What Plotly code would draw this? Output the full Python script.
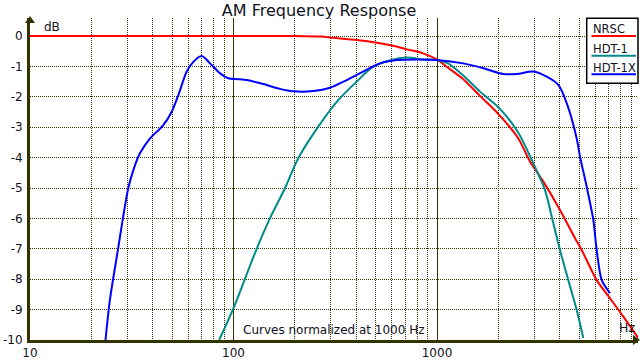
import plotly.graph_objects as go

# ---------------- data ----------------
nrsc_f = [10, 100, 200, 272, 298, 404, 507, 608, 712, 853, 1000, 1116, 1346, 1627,
          2000, 2509, 2864, 3330, 4022, 4766, 5140, 6092, 7083, 8232, 9754]
nrsc_db = [0, 0, 0, -0.02, -0.05, -0.13, -0.22, -0.32, -0.44, -0.57, -0.77, -1.01, -1.42,
           -1.97, -2.56, -3.37, -4.13, -4.79, -5.72, -6.65, -7.04, -8.03, -8.63, -9.23, -9.94]

hdt1_f = [85, 100, 130, 151, 179, 208, 261, 327, 403, 486, 610, 710, 857, 1000, 1133,
          1346, 1627, 2000, 2509, 2974, 3394, 3661, 4022, 4418, 4859, 5236]
hdt1_db = [-10, -8.95, -7.0, -6.0, -5.01, -4.02, -2.98, -2.11, -1.50, -1.01, -0.77, -0.71,
           -0.77, -0.79, -0.90, -1.30, -1.83, -2.34, -3.18, -4.19, -5.07, -5.94, -7.04,
           -8.03, -9.01, -9.93]

hdt1x_f = [23.5, 24.7, 27.2, 28.7, 30.4, 32.2, 34.7, 38.9, 45.2, 49.7, 53.6, 58.9, 63.5,
           69.8, 76.7, 85.9, 94.3, 105.6, 116, 140, 169, 197, 247, 298, 360, 434, 525,
           634, 795, 1000, 1346, 1689, 2118, 2464, 2974, 3460, 3947, 4339, 4859, 5044,
           5440, 5863, 6092, 6448, 7083]
hdt1x_db = [-10, -8.68, -6.93, -5.94, -5.01, -4.41, -3.86, -3.37, -2.93, -2.49, -1.94,
            -1.17, -0.85, -0.66, -0.90, -1.23, -1.39, -1.42, -1.45, -1.58, -1.74, -1.82,
            -1.81, -1.70, -1.45, -1.17, -0.90, -0.79, -0.77, -0.79, -0.90, -1.06, -1.25,
            -1.25, -1.17, -1.34, -1.61, -2.21, -3.37, -3.97, -4.96, -6.05, -7.04, -8.03,
            -8.46]

series_names = ["NRSC", "HDT-1", "HDT-1X"]
series_colors = ["#ff0000", "#008b8b", "#0000ff"]

x_major = [10, 100, 1000]
x_major_text = ["10", "100", "1000"]
x_minor = [20, 30, 40, 50, 60, 70, 80, 90,
           200, 300, 400, 500, 600, 700, 800, 900,
           2000, 3000, 4000, 5000, 6000, 7000, 8000, 9000]
y_ticks = [0, -1, -2, -3, -4, -5, -6, -7, -8, -9, -10]
y_tick_text = [str(v) for v in y_ticks]

title_text = "AM Frequency Response"
note_text = "Curves normalized at 1000 Hz"

# ---------------- layout helpers ----------------
W, H = 640, 360
L, R, T, B = 30, 2, 18, 20
PW, PH = W - L - R, H - T - B
AX = "#333300"
FONT = "DejaVu Sans"
TXT = "#111122"


def px(xp):
    return (xp - L) / PW


def py(yp):
    return (H - B - yp) / PH


fig = go.Figure()
for f, db, name, col in zip([nrsc_f, hdt1_f, hdt1x_f], [nrsc_db, hdt1_db, hdt1x_db],
                            series_names, series_colors):
    fig.add_trace(go.Scatter(x=f, y=db, mode="lines", name=name,
                             line=dict(color=col, width=2, shape="spline", smoothing=0.8),
                             showlegend=False, hoverinfo="skip"))

x_decades = 1 + PW / 203.5
y_top = -10 + PH / 30.4

fig.update_layout(
    width=W, height=H,
    margin=dict(l=L, r=R, t=T, b=B, pad=0, autoexpand=False),
    paper_bgcolor="white", plot_bgcolor="white",
    font=dict(family=FONT, size=12, color=TXT),
    title=dict(text=title_text, x=0.4985, xref="container", xanchor="center",
               y=1 - 10.5 / H, yref="container", yanchor="middle", automargin=False,
               font=dict(family=FONT, size=16, color=TXT)),
    xaxis=dict(type="log", range=[1, x_decades], tickmode="array", tickvals=x_major,
               ticktext=x_major_text, showgrid=True, gridcolor=AX, gridwidth=1,
               showline=True, linecolor=AX, linewidth=3, ticks="", zeroline=False,
               automargin=False, ticklabelstandoff=0,
               tickfont=dict(family=FONT, size=12, color=TXT),
               minor=dict(tickmode="array", tickvals=x_minor, showgrid=True,
                          gridcolor=AX, gridwidth=1, griddash="1px,1px", ticks="")),
    yaxis=dict(range=[-10, y_top], tickmode="array", tickvals=y_ticks,
               ticktext=y_tick_text, showgrid=True, gridcolor=AX, gridwidth=1,
               griddash="1px,1px", showline=True, linecolor=AX, linewidth=3,
               ticks="", zeroline=False, ticklabelstandoff=2, automargin=False,
               tickfont=dict(family=FONT, size=12, color=TXT)),
)

shapes = []
# axis arrows
shapes.append(dict(type="path", xref="paper", yref="paper",
                   path=f"M {px(30)} {py(16)} L {px(25)} {py(23)} L {px(35)} {py(23)} Z",
                   fillcolor=AX, line=dict(width=0), layer="above"))
shapes.append(dict(type="path", xref="paper", yref="paper",
                   path=f"M {px(640)} {py(340)} L {px(633)} {py(335)} L {px(633)} {py(345)} Z",
                   fillcolor=AX, line=dict(width=0), layer="above"))
# legend box
shapes.append(dict(type="rect", xref="paper", yref="paper",
                   x0=px(586.7), x1=px(638), y0=py(83.3), y1=py(18.3),
                   fillcolor="white", line=dict(color="black", width=1.5), layer="above"))
leg_line_y = [36, 55.7, 74.3]
leg_text_y = [29, 48.5, 67.5]
annotations = []
for name, col, ly, ty in zip(series_names, series_colors, leg_line_y, leg_text_y):
    shapes.append(dict(type="line", xref="paper", yref="paper", x0=px(591.5), x1=px(636),
                       y0=py(ly), y1=py(ly), line=dict(color=col, width=2), layer="above"))
    annotations.append(dict(text=name, xref="paper", yref="paper", x=px(591), y=py(ty),
                            xanchor="left", yanchor="middle", showarrow=False,
                            font=dict(family=FONT, size=11.5, color=TXT)))

annotations.append(dict(text="dB", xref="paper", yref="paper", x=px(42), y=py(27.5),
                        xanchor="left", yanchor="middle", showarrow=False,
                        font=dict(family=FONT, size=12, color=TXT)))
annotations.append(dict(text="Hz", xref="paper", yref="paper", x=px(637), y=py(327),
                        xanchor="right", yanchor="middle", showarrow=False,
                        font=dict(family=FONT, size=12.5, color=TXT)))
annotations.append(dict(text=note_text, xref="paper", yref="paper", x=px(241), y=py(330),
                        xanchor="left", yanchor="middle", showarrow=False,
                        font=dict(family=FONT, size=12, color=TXT)))

fig.update_layout(shapes=shapes, annotations=annotations)
fig.write_html("out.html", config={"displayModeBar": False},
               post_script="document.body.style.margin='0';document.body.style.overflow='hidden';")
